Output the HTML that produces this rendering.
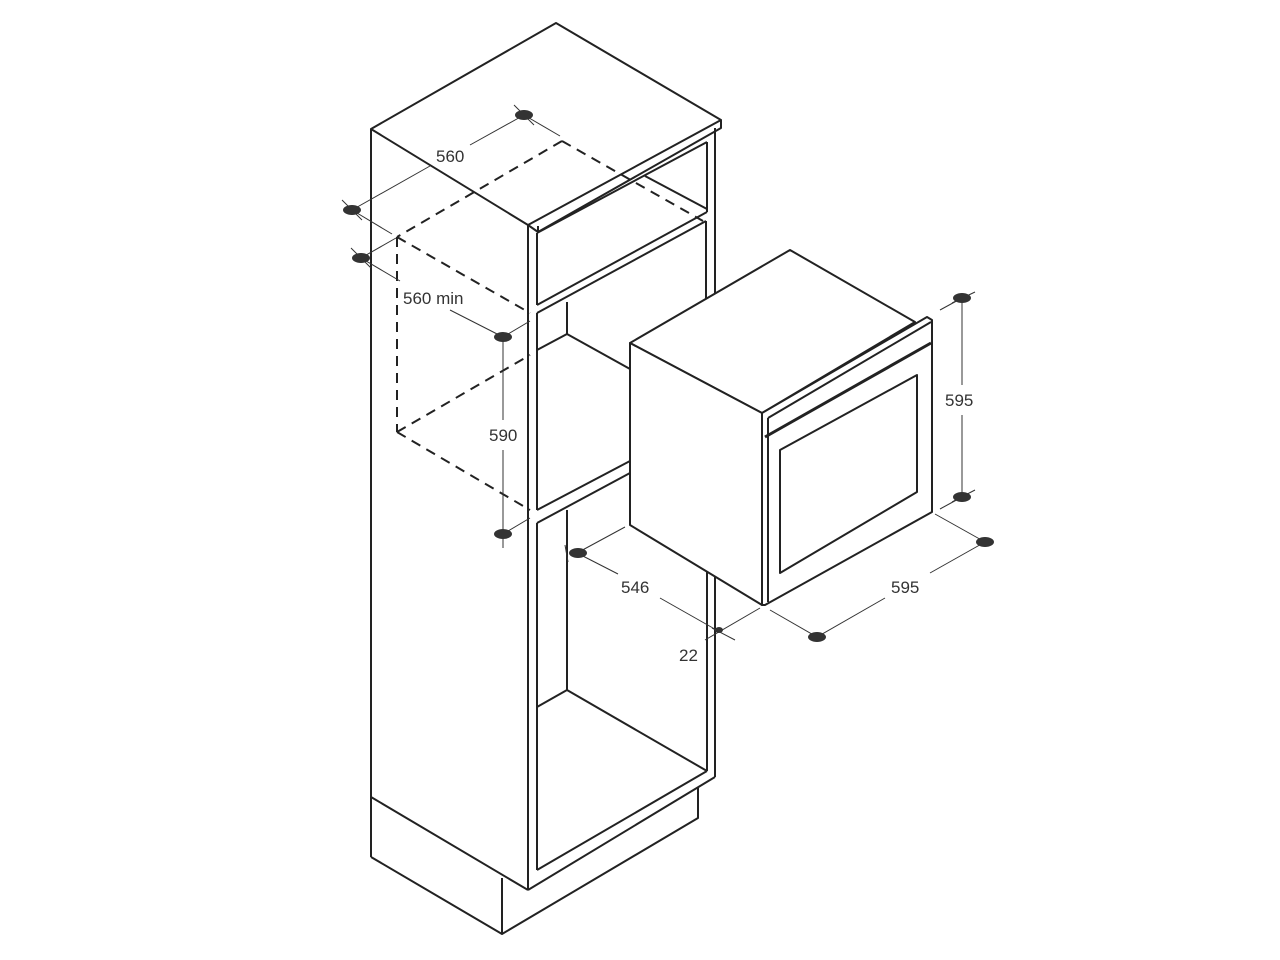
<!DOCTYPE html>
<html><head><meta charset="utf-8"><style>
html,body{margin:0;padding:0;background:#fff;width:1280px;height:960px;overflow:hidden}
svg{display:block}
text{font-family:"Liberation Sans",sans-serif;font-size:17px;fill:#333}
</style></head><body>
<svg width="1280" height="960" viewBox="0 0 1280 960" xmlns="http://www.w3.org/2000/svg">
<g fill="none" stroke="#222" stroke-width="2" stroke-linejoin="round">
<!-- top slab -->
<polygon points="556,23 721,120 528,225 371,129" fill="#fff"/>
<polyline points="721,120 721,128 538,232 528,225"/>
<line x1="538" y1="232" x2="538" y2="226"/>
<!-- left side -->
<line x1="371" y1="129" x2="371" y2="857"/>
<line x1="371" y1="797" x2="528" y2="890"/>
<polyline points="371,857 502,934 698,818 698,788"/>
<line x1="502" y1="934" x2="502" y2="878"/>
<!-- front frame -->
<line x1="528" y1="225" x2="528" y2="890"/>
<line x1="528" y1="890" x2="715" y2="777"/>
<line x1="715" y1="128" x2="715" y2="318"/>
<line x1="715" y1="565" x2="715" y2="777"/>
<line x1="537" y1="233" x2="537" y2="305"/>
<line x1="537" y1="313" x2="537" y2="510"/>
<line x1="537" y1="523" x2="537" y2="870"/>
<line x1="537" y1="870" x2="707" y2="771"/>
<!-- upper compartment -->
<line x1="537" y1="233" x2="707" y2="142"/>
<line x1="707" y1="142" x2="707" y2="212"/>
<line x1="537" y1="305" x2="707" y2="212"/>
<line x1="645" y1="176" x2="707" y2="209"/>
<line x1="537" y1="313" x2="706" y2="221"/>
<line x1="706" y1="221" x2="706" y2="318"/>
<!-- middle compartment -->
<line x1="567" y1="302" x2="567" y2="334"/>
<line x1="567" y1="334" x2="537" y2="350"/>
<line x1="567" y1="334" x2="630" y2="369"/>
<line x1="537" y1="510" x2="630" y2="461"/>
<line x1="537" y1="523" x2="630" y2="473"/>
<!-- lower compartment -->
<line x1="567" y1="510" x2="567" y2="690"/>
<line x1="567" y1="690" x2="537" y2="707"/>
<line x1="567" y1="690" x2="707" y2="771"/>
<line x1="707" y1="565" x2="707" y2="771"/>
<!-- oven -->
<polygon points="790,250 915,322 762,413 630,343" fill="#fff"/>
<polygon points="630,343 762,413 762,605 630,525" fill="#fff"/>
<polygon points="762,413 927,317 932,320 932,512 765,605 762,605" fill="#fff"/>
<line x1="768" y1="418" x2="768" y2="602"/>
<line x1="768" y1="418" x2="931" y2="322"/>
<line x1="765" y1="437" x2="931" y2="343" stroke-width="3"/>
<polygon points="780,450 917,375 917,492 780,573"/>
</g>
<!-- dashed -->
<g fill="none" stroke="#222" stroke-width="2" stroke-dasharray="10,7">
<line x1="562" y1="141" x2="397" y2="237"/>
<line x1="562" y1="141" x2="703" y2="221"/>
<line x1="397" y1="237" x2="530" y2="313"/>
<line x1="397" y1="237" x2="397" y2="432"/>
<line x1="397" y1="432" x2="530" y2="510"/>
<line x1="397" y1="432" x2="530" y2="355"/>
</g>
<!-- dimension lines -->
<g stroke="#333" stroke-width="1" fill="none">
<line x1="352" y1="210" x2="430" y2="166"/><line x1="470" y1="145" x2="524" y2="115"/>
<line x1="352" y1="210" x2="392" y2="234"/><line x1="524" y1="115" x2="560" y2="136"/>
<line x1="342" y1="200" x2="362" y2="220"/><line x1="514" y1="105" x2="534" y2="125"/>
<line x1="361" y1="258" x2="400" y2="281"/><line x1="450" y1="310" x2="503" y2="337"/>
<line x1="361" y1="258" x2="396" y2="238"/><line x1="503" y1="337" x2="530" y2="321"/>
<line x1="351" y1="248" x2="371" y2="268"/>
<line x1="503" y1="337" x2="503" y2="420"/><line x1="503" y1="450" x2="503" y2="548"/>
<line x1="503" y1="534" x2="530" y2="518"/>
<line x1="577" y1="553" x2="625" y2="527"/>
<line x1="577" y1="553" x2="618" y2="574"/><line x1="660" y1="598" x2="720" y2="632"/>
<line x1="565" y1="545" x2="568" y2="562"/>
<line x1="705" y1="640" x2="760" y2="608"/><line x1="712" y1="628" x2="735" y2="640"/>
<line x1="817" y1="637" x2="770" y2="610"/>
<line x1="817" y1="637" x2="885" y2="598"/><line x1="930" y1="573" x2="985" y2="542"/>
<line x1="985" y1="542" x2="935" y2="514"/>
<line x1="962" y1="298" x2="962" y2="385"/><line x1="962" y1="415" x2="962" y2="497"/>
<line x1="962" y1="298" x2="940" y2="310"/><line x1="962" y1="497" x2="940" y2="509"/>
<line x1="952" y1="303" x2="975" y2="292"/><line x1="952" y1="502" x2="975" y2="490"/>
</g>
<g fill="#333">
<ellipse cx="524" cy="115" rx="9" ry="5"/>
<ellipse cx="352" cy="210" rx="9" ry="5"/>
<ellipse cx="361" cy="258" rx="9" ry="5"/>
<ellipse cx="503" cy="337" rx="9" ry="5"/>
<ellipse cx="503" cy="534" rx="9" ry="5"/>
<ellipse cx="578" cy="553" rx="9" ry="5"/>
<ellipse cx="719" cy="630" rx="4" ry="3"/>
<ellipse cx="817" cy="637" rx="9" ry="5"/>
<ellipse cx="985" cy="542" rx="9" ry="5"/>
<ellipse cx="962" cy="298" rx="9" ry="5"/>
<ellipse cx="962" cy="497" rx="9" ry="5"/>
</g>
<text x="436" y="162">560</text>
<text x="403" y="304">560 min</text>
<text x="489" y="441">590</text>
<text x="621" y="593">546</text>
<text x="679" y="661">22</text>
<text x="891" y="593">595</text>
<text x="945" y="406">595</text>
</svg>
</body></html>
